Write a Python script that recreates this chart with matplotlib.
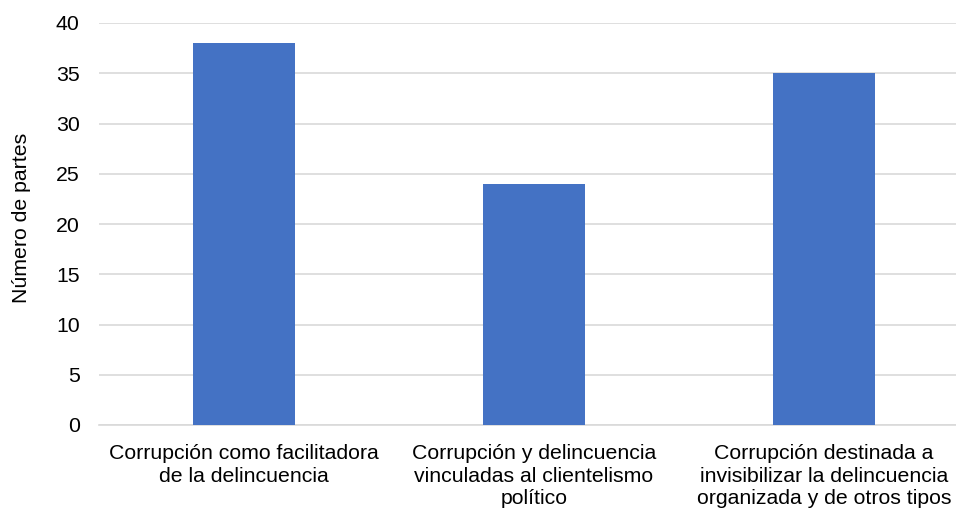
import matplotlib
matplotlib.use("Agg")
import matplotlib.pyplot as plt

categories = [
    "Corrupción como facilitadora\nde la delincuencia",
    "Corrupción y delincuencia\nvinculadas al clientelismo\npolítico",
    "Corrupción destinada a\ninvisibilizar la delincuencia\norganizada y de otros tipos",
]
values = [38, 24, 35]
y_ticks = [0, 5, 10, 15, 20, 25, 30, 35, 40]

plt.rcParams["font.family"] = ["Liberation Sans", "DejaVu Sans"]

fig = plt.figure(figsize=(9.56, 5.09), dpi=100)
ax = fig.add_axes([99 / 956, 84 / 509, 870 / 956, 402 / 509])

x = list(range(len(categories)))
ax.bar(x, values, width=0.354, color="#4472C4", zorder=3)

ax.set_xlim(-0.5, len(categories) - 0.5)
ax.set_ylim(0, 40)
ax.set_yticks(y_ticks)
ax.set_xticks(x)
ax.set_xticklabels(categories, fontsize=15.3, color="#000000", linespacing=1.22)
ax.tick_params(axis="y", labelsize=15.3, length=0, pad=14, colors="#000000")
ax.tick_params(axis="x", length=0, pad=14)

ax.grid(axis="y", color="#D9D9D9", linewidth=1.2, zorder=0)
for side in ("left", "right", "top"):
    ax.spines[side].set_visible(False)
ax.spines["bottom"].set_color("#D9D9D9")
ax.spines["bottom"].set_linewidth(1.2)

fig.text(22 / 956, 1 - 218 / 509, "Número de partes", rotation=90,
         ha="center", va="center", fontsize=15.3, color="#000000")

fig.savefig("out.png", dpi=100)
